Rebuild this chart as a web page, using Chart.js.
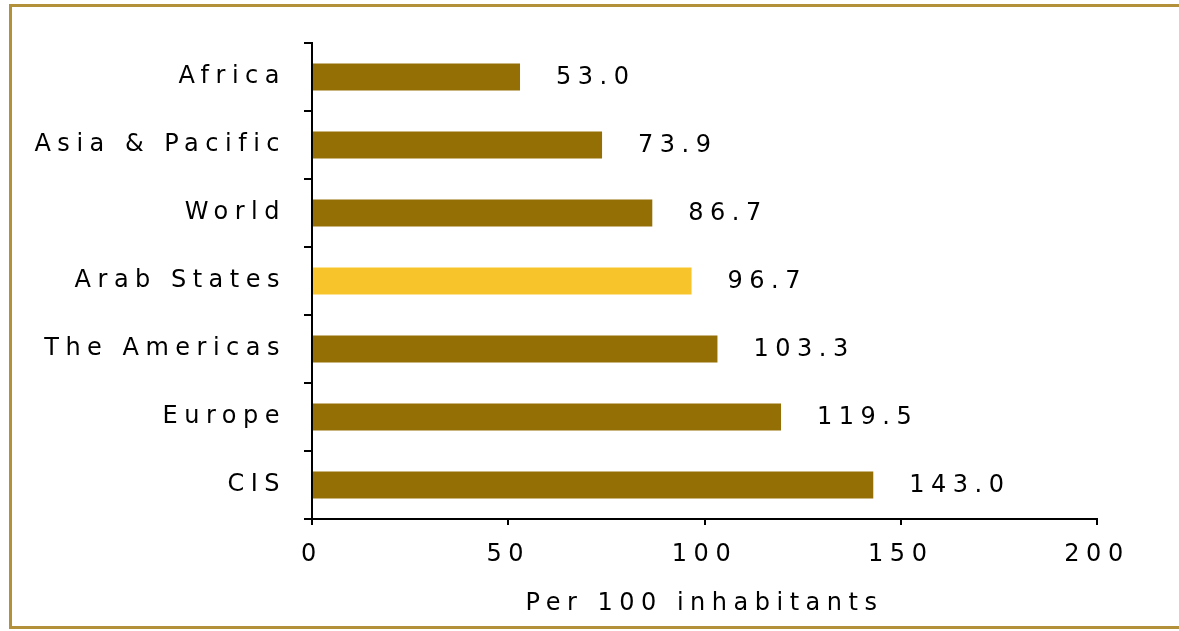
<!DOCTYPE html>
<html>
<head>
<meta charset="utf-8">
<script src="https://cdn.jsdelivr.net/npm/chart.js@4.4.1/dist/chart.umd.min.js"></script>
<style>
  html, body { margin: 0; padding: 0; background: #ffffff; overflow: hidden; }
  #wrap { position: relative; width: 1179px; height: 631px; }
  #frame {
    position: absolute; left: 9px; top: 4px; width: 1300px; height: 625px;
    box-sizing: border-box; border: 3px solid #b3913a; pointer-events: none;
  }
  #chart { position: absolute; left: 0; top: 0; }
</style>
</head>
<body>
<div id="wrap">
  <canvas id="chart" width="1179" height="631"></canvas>
  <div id="frame"></div>
</div>
<script>
const regions = ["Africa", "Asia & Pacific", "World", "Arab States", "The Americas", "Europe", "CIS"];
const perHundred = [53.0, 73.9, 86.7, 96.7, 103.3, 119.5, 143.0];
const xTicks = [0, 50, 100, 150, 200];
const xTitle = "Per 100 inhabitants";
const highlight = "Arab States";

const brown = "#936f05";
const gold = "#f7c52b";
const ink = "#000000";
const spacing = "6.5px";

Chart.defaults.font.family = "'DejaVu Sans', Verdana, sans-serif";
Chart.defaults.font.size = 24;
Chart.defaults.color = ink;

// wide letter spacing for every text on the canvas (state is lost when the canvas resizes)
const spacedText = {
    id: "spacedText",
    beforeUpdate(chart) { chart.ctx.letterSpacing = spacing; },
    beforeLayout(chart) { chart.ctx.letterSpacing = spacing; },
    beforeDraw(chart) { chart.ctx.letterSpacing = spacing; }
};

// value written to the right of each bar
const valueLabels = {
    id: "valueLabels",
    afterDatasetsDraw(chart) {
        const ctx = chart.ctx;
        const meta = chart.getDatasetMeta(0);
        ctx.save();
        ctx.letterSpacing = spacing;
        ctx.font = "24px 'DejaVu Sans', Verdana, sans-serif";
        ctx.fillStyle = ink;
        ctx.textAlign = "left";
        ctx.textBaseline = "middle";
        meta.data.forEach((bar, i) => {
            ctx.fillText(perHundred[i].toFixed(1), bar.x + 36, bar.y + 1);
        });
        ctx.restore();
    }
};

new Chart(document.getElementById("chart"), {
    type: "bar",
    data: {
        labels: regions,
        datasets: [{
            data: perHundred,
            backgroundColor: (c) => regions[c.dataIndex] === highlight ? gold : brown,
            borderWidth: 0,
            barPercentage: 0.4,
            categoryPercentage: 1
        }]
    },
    options: {
        indexAxis: "y",
        responsive: false,
        animation: false,
        layout: { padding: { top: 43, right: 82, bottom: 0, left: 0 } },
        plugins: {
            legend: { display: false },
            tooltip: { enabled: false }
        },
        scales: {
            x: {
                min: 0,
                max: 200,
                afterBuildTicks: (axis) => { axis.ticks = xTicks.map(v => ({ value: v })); },
                afterFit: (axis) => { axis.height = 112; },
                ticks: { padding: 15, color: ink },
                grid: { drawOnChartArea: false, tickLength: 6, color: "#000000", lineWidth: 2 },
                border: { display: true, color: "#000000", width: 2 },
                title: {
                    display: true,
                    text: xTitle,
                    color: ink,
                    font: { size: 24 },
                    padding: { top: 0, bottom: 13 }
                }
            },
            y: {
                afterFit: (axis) => { axis.width = 312; },
                ticks: { padding: 18, color: ink },
                grid: { drawOnChartArea: false, tickLength: 8, color: "#000000", lineWidth: 2, offset: true },
                border: { display: true, color: "#000000", width: 2 }
            }
        }
    },
    plugins: [spacedText, valueLabels]
});
</script>
</body>
</html>
